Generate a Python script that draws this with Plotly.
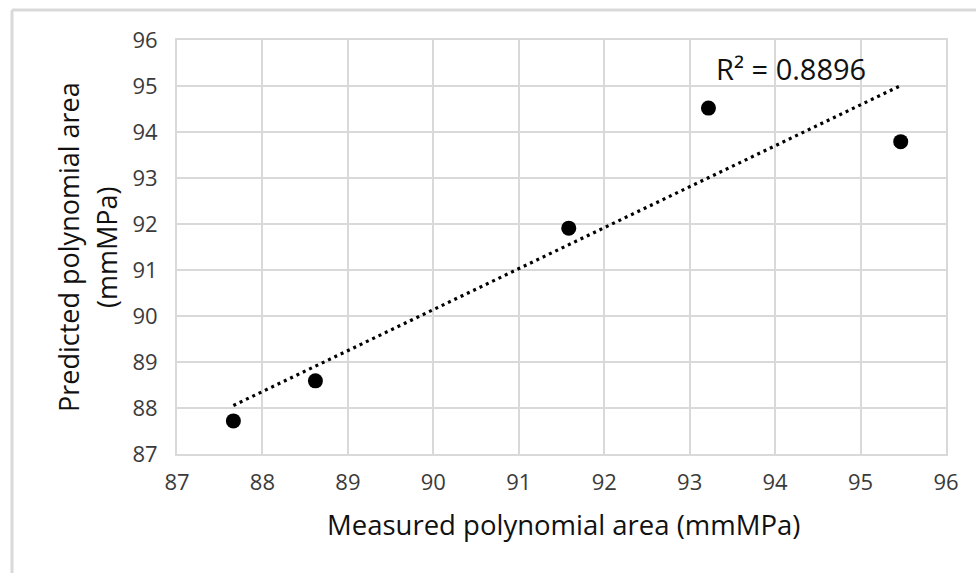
import numpy as np
import plotly.graph_objects as go

# Data
measured = [87.66, 88.62, 91.585, 93.22, 95.47]
predicted = [87.72, 88.59, 91.91, 94.52, 93.79]
tick_vals = [87, 88, 89, 90, 91, 92, 93, 94, 95, 96]
r2_label = "R² = 0.8896"
x_title = "Measured polynomial area (mmMPa)"
y_title_lines = ["Predicted polynomial area", "(mmMPa)"]

# Linear trendline fitted through the points (spans data range, like Excel)
slope, intercept = np.polyfit(measured, predicted, 1)
trend_x = [min(measured), max(measured)]
trend_y = [slope * v + intercept for v in trend_x]

FONT = "Open Sans"
GRID = "#d9d9d9"
W, H = 976, 573
ML, MR, MT, MB = 177, 30, 40, 119
PW, PH = W - ML - MR, H - MT - MB

def px_x(p):
    return (p - ML) / PW

def px_y(p):
    return (H - MB - p) / PH

fig = go.Figure()
fig.add_trace(go.Scatter(
    x=trend_x, y=trend_y, mode="lines",
    line=dict(color="black", width=3.2, dash="3px,4px"),
    hoverinfo="skip", showlegend=False,
))
fig.add_trace(go.Scatter(
    x=measured, y=predicted, mode="markers",
    marker=dict(color="black", size=15),
    showlegend=False,
))

axis_common = dict(
    range=[87, 96], tickvals=tick_vals, ticktext=[str(v) for v in tick_vals],
    showgrid=True, gridcolor=GRID, gridwidth=2,
    showline=True, linecolor=GRID, linewidth=2, mirror=True,
    zeroline=False, ticks="", fixedrange=True,
    tickfont=dict(family=FONT, size=22, color="#3a3a3a"),
)
fig.update_xaxes(**axis_common, ticklabelstandoff=8)
fig.update_yaxes(**axis_common, ticklabelstandoff=13)

annotations = [
    dict(text=r2_label, xref="paper", yref="paper", x=px_x(714), y=px_y(69),
         xanchor="left", yanchor="middle", showarrow=False,
         font=dict(family=FONT, size=29, color="#111111")),
    dict(text=x_title, xref="paper", yref="paper", x=px_x(563), y=px_y(524),
         xanchor="center", yanchor="middle", showarrow=False,
         font=dict(family=FONT, size=27.5, color="#111111")),
    dict(text=y_title_lines[0], xref="paper", yref="paper", x=px_x(68), y=px_y(247),
         xanchor="center", yanchor="middle", textangle=-90, showarrow=False,
         font=dict(family=FONT, size=27, color="#111111")),
    dict(text=y_title_lines[1], xref="paper", yref="paper", x=px_x(106), y=px_y(248),
         xanchor="center", yanchor="middle", textangle=-90, showarrow=False,
         font=dict(family=FONT, size=27, color="#111111")),
]

shapes = [
    dict(type="line", xref="paper", yref="paper", x0=px_x(12), x1=px_x(12),
         y0=px_y(10), y1=px_y(H + 5), line=dict(color=GRID, width=3)),
    dict(type="line", xref="paper", yref="paper", x0=px_x(12), x1=px_x(W + 5),
         y0=px_y(10), y1=px_y(10), line=dict(color=GRID, width=3)),
]

fig.update_layout(
    width=W, height=H,
    margin=dict(l=ML, r=MR, t=MT, b=MB),
    paper_bgcolor="white", plot_bgcolor="white",
    annotations=annotations, shapes=shapes,
    showlegend=False,
)

fig.write_html("out.html", config={"displayModeBar": False})
